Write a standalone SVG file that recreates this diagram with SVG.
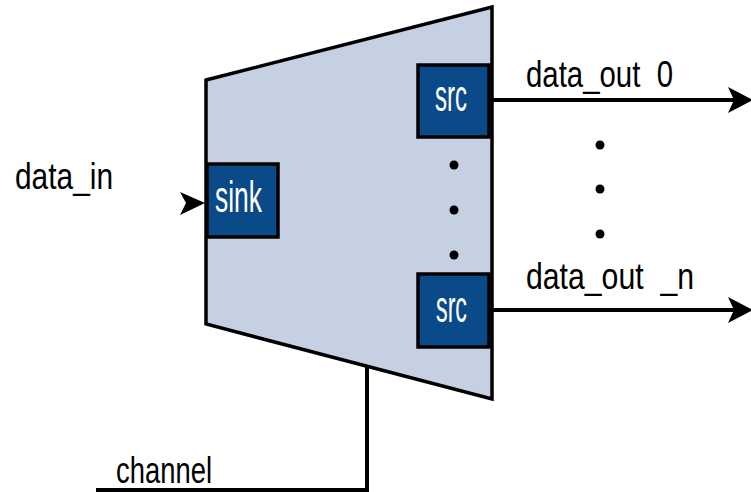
<svg xmlns="http://www.w3.org/2000/svg" width="751" height="492" viewBox="0 0 751 492">
<style>
.lbl{font-family:"Liberation Sans Narrow","Liberation Sans",sans-serif;font-size:37px;fill:#000;white-space:pre}
.btxt{font-family:"Liberation Sans Narrow","Liberation Sans",sans-serif;font-size:44px;fill:#fff}
.box{fill:#0b4a89;stroke:#000;stroke-width:3.5}
.wire{fill:none;stroke:#000;stroke-width:4}
.dot{fill:#000}
</style>
<rect width="751" height="492" fill="#fff"/>
<g id="mux">
<polygon points="206,80 492,7 492,399 206,324" fill="#c5d0e2" stroke="#000" stroke-width="3.5" stroke-linejoin="miter"/>
<circle class="dot" cx="454" cy="165" r="4.5"/>
<circle class="dot" cx="454" cy="210" r="4.5"/>
<circle class="dot" cx="454" cy="255" r="4.5"/>
</g>
<g id="sink">
<rect class="box" x="207" y="164" width="71" height="73"/>
<text class="btxt" x="215" y="212" textLength="47" lengthAdjust="spacingAndGlyphs">sink</text>
</g>
<g id="src0">
<rect class="box" x="418" y="65" width="71" height="72"/>
<text class="btxt" x="435" y="111" textLength="32" lengthAdjust="spacingAndGlyphs">src</text>
</g>
<g id="srcn">
<rect class="box" x="418" y="274" width="71" height="73"/>
<text class="btxt" x="436" y="322" textLength="31" lengthAdjust="spacingAndGlyphs">src</text>
</g>
<g id="labels">
<text class="lbl" x="15" y="189" textLength="98" lengthAdjust="spacingAndGlyphs">data_in</text>
<text class="lbl" x="526" y="87" textLength="147" lengthAdjust="spacingAndGlyphs">data_out  0</text>
<text class="lbl" x="526" y="289" textLength="168" lengthAdjust="spacingAndGlyphs">data_out  _n</text>
<text class="lbl" x="116" y="483" textLength="96" lengthAdjust="spacingAndGlyphs">channel</text>
<circle class="dot" cx="600" cy="145" r="4.5"/>
<circle class="dot" cx="600" cy="189" r="4.5"/>
<circle class="dot" cx="600" cy="234" r="4.5"/>
</g>
<g id="connectors">
<path d="M205,203 L180,192 L186,203 L180,215 Z" fill="#000"/>
<line class="wire" x1="490" y1="100" x2="736" y2="100"/>
<path d="M753,100 L728,87 L734,100 L728,113 Z" fill="#000"/>
<line class="wire" x1="490" y1="310" x2="736" y2="310"/>
<path d="M753,310 L728,297 L734,310 L728,323 Z" fill="#000"/>
<polyline class="wire" points="367,365 367,490 96,490"/>
</g>
</svg>
